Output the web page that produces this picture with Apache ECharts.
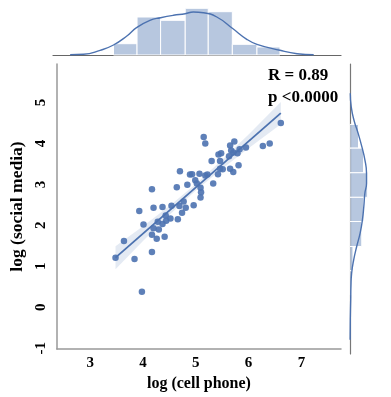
<!DOCTYPE html>
<html><head><meta charset="utf-8">
<script src="https://cdn.jsdelivr.net/npm/echarts@6/dist/echarts.min.js"></script>
<style>html,body{margin:0;padding:0;background:#fff}#c{width:391px;height:397px}</style>
</head><body><div id="c"></div>
<script>
// scatter data: log(cell phone), log(social media)
const xVals = [3.48,3.64,3.84,3.98,4.17,3.93,4.01,4.17,4.17,4.20,4.20,4.26,4.30,4.28,4.37,4.37,4.41,4.43,4.44,4.52,4.54,4.64,4.66,4.69,4.74,4.77,4.81,4.84,4.96,4.99,5.02,5.09,5.10,5.09,5.33,4.70,4.89,4.93,5.07,5.18,5.22,5.30,5.42,5.43,5.46,5.48,5.46,5.51,5.15,5.18,5.63,5.65,5.65,5.67,5.71,5.73,5.71,5.79,5.81,5.83,5.95,6.27,6.40,6.61];
const yVals = [1.21,1.62,1.18,0.38,2.88,2.35,2.02,1.77,1.35,2.43,1.93,1.67,1.90,2.09,2.45,2.03,1.72,2.24,2.11,2.17,2.48,2.93,2.15,2.47,2.31,2.58,2.43,2.99,2.49,3.10,3.02,2.92,2.81,2.68,3.02,3.32,3.24,3.25,3.26,3.22,3.24,3.57,3.25,3.73,3.57,3.76,3.38,3.37,4.16,4.00,3.69,3.38,3.95,3.83,3.30,4.05,3.78,3.76,3.47,3.86,3.90,3.94,4.00,4.50];

// regression line endpoints and confidence band
const regX = [3.48, 6.61];
const regY = [1.21, 4.74];
const ciX    = [3.48, 4.0, 4.5, 5.0, 5.5, 6.0, 6.61];
const ciLow  = [0.93, 1.62, 2.25, 2.85, 3.38, 3.88, 4.47];
const ciHigh = [1.49, 1.98, 2.47, 3.01, 3.60, 4.22, 5.01];

// x marginal histogram (density) and KDE
const topEdges = [3.50, 3.94, 4.38, 4.84, 5.27, 5.72, 6.18, 6.61];
const topHeights = [0.113, 0.380, 0.347, 0.467, 0.433, 0.107, 0.080];
const topKdeX = [2.69,2.94,3.25,3.50,3.75,3.93,4.18,4.38,4.62,4.84,4.99,5.18,5.43,5.72,5.99,6.18,6.61,6.93,7.24];
const topKdeY = [0.003,0.007,0.047,0.100,0.190,0.273,0.347,0.373,0.397,0.413,0.430,0.423,0.380,0.267,0.157,0.107,0.047,0.013,0.002];

// y marginal histogram (density) and KDE
const rightEdges = [4.49, 3.92, 3.33, 2.74, 2.16, 1.56, 0.98, 0.40];
const rightHeights = [0.207, 0.330, 0.430, 0.337, 0.287, 0.073, 0.036];
const rightKdeY = [5.24,4.91,4.59,4.28,3.95,3.64,3.32,3.08,2.84,2.52,2.20,1.88,1.56,1.24,0.92,0.60,0.28,-0.20,-0.68];
const rightKdeX = [0.007,0.030,0.097,0.197,0.290,0.363,0.403,0.403,0.363,0.337,0.303,0.247,0.163,0.090,0.040,0.023,0.017,0.007,0.003];

// tick labels
const xTicks = [3,4,5,6,7];
const yTicks = [-1,0,1,2,3,4,5];
const annot = ['R = 0.89', 'p <0.0000'];

const BLUE = '#4c72b0';
const HIST_FILL = 'rgba(76,114,176,0.4)';
const FONT = "'Liberation Serif', 'Times New Roman', serif";
const XMIN = 2.37, XMAX = 7.75, YMIN = -1.02, YMAX = 5.94;

const chart = echarts.init(document.getElementById('c'), null, {renderer: 'canvas'});

function histRenderer(edges, heights, vertical) {
  return function (params, api) {
    const i = params.dataIndex;
    let p0, p1;
    if (vertical) {
      p0 = api.coord([edges[i], heights[i]]);
      p1 = api.coord([edges[i + 1], 0]);
    } else {
      p0 = api.coord([0, edges[i]]);
      p1 = api.coord([heights[i], edges[i + 1]]);
    }
    const x = Math.min(p0[0], p1[0]), y = Math.min(p0[1], p1[1]);
    return {
      type: 'rect',
      shape: {x: x, y: y, width: Math.abs(p1[0] - p0[0]), height: Math.abs(p1[1] - p0[1])},
      style: {fill: HIST_FILL, stroke: '#fff', lineWidth: 1}
    };
  };
}

const option = {
  animation: false,
  backgroundColor: '#fff',
  grid: [
    {left: 53, top: 64, width: 288, height: 290},
    {left: 53, top: 5, width: 288, height: 50},
    {left: 350, top: 64, width: 100, height: 290}
  ],
  xAxis: [
    {gridIndex: 0, type: 'value', min: XMIN, max: XMAX,
     name: 'log (cell phone)', nameLocation: 'middle', nameGap: 27,
     nameTextStyle: {fontFamily: FONT, fontWeight: 'bold', fontSize: 16, color: '#000'},
     axisLine: {show: true, onZero: false, lineStyle: {color: '#999', width: 1.5}},
     axisTick: {show: false}, splitLine: {show: false},
     axisLabel: {customValues: xTicks, fontFamily: FONT, fontWeight: 'bold', fontSize: 15, color: '#000', margin: 7}},
    {gridIndex: 1, type: 'value', min: XMIN, max: XMAX,
     axisLine: {show: true, onZero: false, lineStyle: {color: '#666', width: 1.2}},
     axisTick: {show: false}, axisLabel: {show: false}, splitLine: {show: false}},
    {gridIndex: 2, type: 'value', min: 0, max: 1, show: false}
  ],
  yAxis: [
    {gridIndex: 0, type: 'value', min: YMIN, max: YMAX,
     name: 'log (social media)', nameLocation: 'middle', nameGap: 25, nameRotate: 90,
     nameTextStyle: {fontFamily: FONT, fontWeight: 'bold', fontSize: 17.5, color: '#000'},
     axisLine: {show: true, onZero: false, lineStyle: {color: '#999', width: 1.5}},
     axisTick: {show: false}, splitLine: {show: false},
     axisLabel: {customValues: yTicks, rotate: 90, fontFamily: FONT, fontWeight: 'bold', fontSize: 15, color: '#000', margin: 8}},
    {gridIndex: 1, type: 'value', min: 0, max: 0.5, show: false},
    {gridIndex: 2, type: 'value', min: YMIN, max: YMAX,
     axisLine: {show: true, onZero: false, lineStyle: {color: '#777', width: 1.2}},
     axisTick: {show: false}, axisLabel: {show: false}, splitLine: {show: false}}
  ],
  series: [
    {type: 'custom', xAxisIndex: 0, yAxisIndex: 0, data: [0], z: 1,
     renderItem: function (params, api) {
       const pts = [];
       for (let i = 0; i < ciX.length; i++) pts.push(api.coord([ciX[i], ciHigh[i]]));
       for (let i = ciX.length - 1; i >= 0; i--) pts.push(api.coord([ciX[i], ciLow[i]]));
       return {type: 'polygon', shape: {points: pts}, style: {fill: 'rgba(76,114,176,0.15)'}};
     }},
    {type: 'scatter', xAxisIndex: 0, yAxisIndex: 0, z: 3,
     data: xVals.map((x, i) => [x, yVals[i]]),
     symbolSize: 6.5, itemStyle: {color: BLUE, opacity: 0.9}},
    {type: 'line', xAxisIndex: 0, yAxisIndex: 0, z: 4, symbol: 'none',
     data: regX.map((x, i) => [x, regY[i]]),
     lineStyle: {color: BLUE, width: 1.8}},
    {type: 'custom', xAxisIndex: 1, yAxisIndex: 1, data: topHeights,
     renderItem: histRenderer(topEdges, topHeights, true)},
    {type: 'line', xAxisIndex: 1, yAxisIndex: 1, symbol: 'none', smooth: true,
     data: topKdeX.map((x, i) => [x, topKdeY[i]]),
     lineStyle: {color: BLUE, width: 1.4}},
    {type: 'custom', xAxisIndex: 2, yAxisIndex: 2, data: rightHeights,
     renderItem: histRenderer(rightEdges, rightHeights, false)},
    {type: 'line', xAxisIndex: 2, yAxisIndex: 2, symbol: 'none', smooth: true,
     data: rightKdeY.map((y, i) => [rightKdeX[i], y]),
     lineStyle: {color: BLUE, width: 1.4}}
  ],
  graphic: [
    {type: 'text', x: 268, y: 76, style: {text: annot[0], fill: '#000', font: "bold 17px " + FONT, verticalAlign: 'middle'}},
    {type: 'text', x: 268, y: 98, style: {text: annot[1], fill: '#000', font: "bold 17px " + FONT, verticalAlign: 'middle'}}
  ]
};
chart.setOption(option);
</script>
</body></html>
